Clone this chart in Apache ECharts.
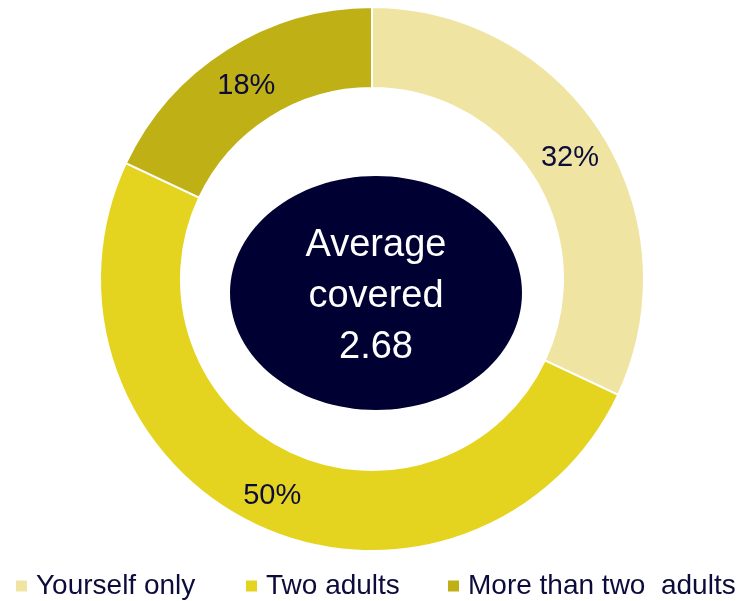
<!DOCTYPE html>
<html><head><meta charset="utf-8">
<script src="https://cdn.jsdelivr.net/npm/echarts@6/dist/echarts.min.js"></script>
<style>html,body{margin:0;padding:0;background:#fff}#c{width:740px;height:601px}</style>
</head><body><div id="c"></div>
<script>
const categories = ['Yourself only', 'Two adults', 'More than two  adults'];
const values = [32, 50, 18];
const colors = ['#EFE4A2', '#E5D41F', '#BFB016'];
const centerLines = ['Average', 'covered', '2.68'];

const chart = echarts.init(document.getElementById('c'), null, {renderer: 'canvas'});
const legendLeft = [14, 244, 446];
const legends = categories.map((n, i) => ({
  data: [n], left: legendLeft[i], top: 572, padding: 0, icon: 'rect', itemWidth: 13, itemHeight: 13,
  selectedMode: false,
  textStyle: {fontFamily: 'Liberation Sans', fontSize: 28, color: '#0C0C3C', padding: [0, 0, 0, 3]}
}));
const textEls = centerLines.map((t, i) => ({
  type: 'text', z: 11, x: 376, y: 246 + i * 51,
  style: {text: t, fill: '#ffffff', fontFamily: 'Liberation Sans', fontSize: 38, align: 'center', textAlign: 'center', verticalAlign: 'middle', textVerticalAlign: 'middle'}
}));
chart.setOption({
  animation: false,
  color: colors,
  legend: legends,
  graphic: [
    {type: 'ellipse', shape: {cx: 376, cy: 293, rx: 146, ry: 117}, style: {fill: '#000033'}, z: 10}
  ].concat(textEls),
  series: [{
    type: 'pie',
    center: [372, 279],
    radius: [191, 272],
    startAngle: 90,
    clockwise: true,
    avoidLabelOverlap: false,
    itemStyle: {borderColor: '#ffffff', borderWidth: 2},
    label: {show: true, position: 'inside', formatter: '{c}%', fontFamily: 'Liberation Sans', fontSize: 29, color: '#0C0C3C', offset: [0, 5]},
    labelLine: {show: false},
    emphasis: {disabled: true},
    data: categories.map((n, i) => ({name: n, value: values[i]}))
  }]
});
</script></body></html>
